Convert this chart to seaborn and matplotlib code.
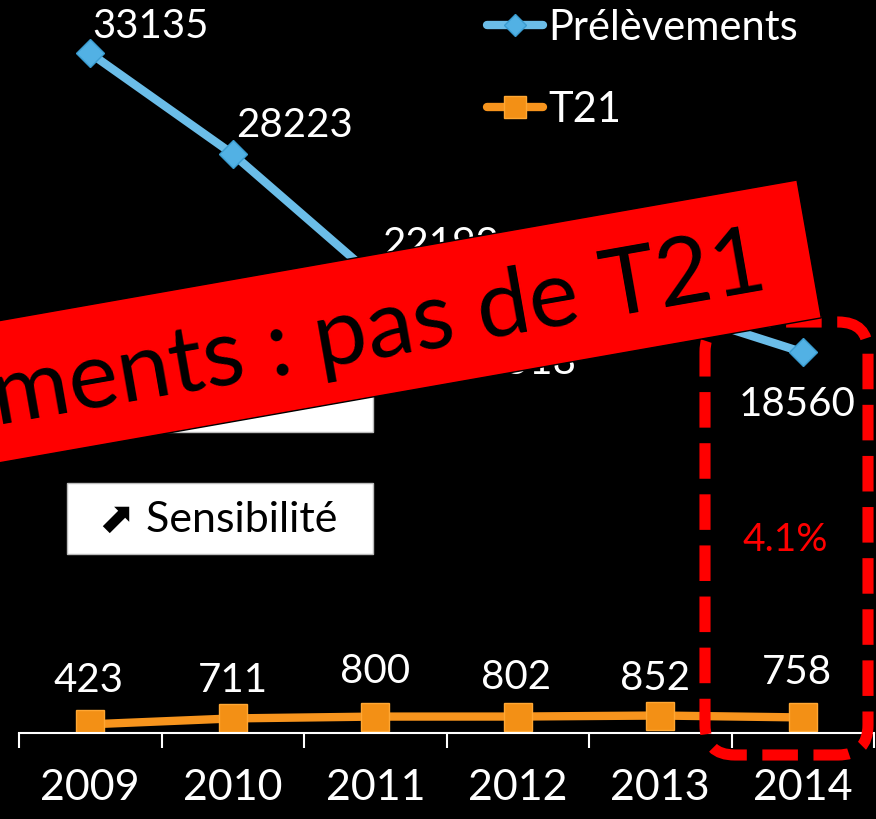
import matplotlib
matplotlib.use("Agg")
import matplotlib.pyplot as plt
import matplotlib.transforms as mtransforms
from matplotlib.patches import Rectangle, Polygon, FancyBboxPatch
import numpy as np
import seaborn as sns

# ── Data ──────────────────────────────────────────────────────────────────────
years = [2009, 2010, 2011, 2012, 2013, 2014]
prelevements = [33135, 28223, 22193, 20518, 20780, 18560]
t21 = [423, 711, 800, 802, 852, 758]
series_names = ["Prélèvements", "T21"]
banner_text = "Prélèvements : pas de T21"
box_text = "⬈ Sensibilité"

# label offsets in pixels (dx, dy), not data
blue_offsets = [(60, 27), (62, 29), (65, 33), (0, -50), (0, 52), (-6, -52)]
orange_offsets = [(-2, 44), (0, 38), (0, 45), (-2, 39), (-5, 37), (-6, 45)]

W, H = 876, 819
BLUE = "#6BBDE8"
ORANGE = "#F7941D"

sns.set_theme(style="dark")
plt.rcParams["font.family"] = ["Lato", "DejaVu Sans"]

fig = plt.figure(figsize=(W / 100, H / 100), dpi=100, facecolor="black")
ax = fig.add_axes([19 / W, (H - 733) / H, (874 - 19) / W, (733 - 15) / H])
ax.set_facecolor("black")

sns.lineplot(x=years, y=prelevements, ax=ax, color=BLUE, linewidth=6,
             marker="D", markersize=14, markerfacecolor="#52B1E4",
             markeredgecolor="#3A9CD0", markeredgewidth=1,
             label=series_names[0])
sns.lineplot(x=years, y=t21, ax=ax, color=ORANGE, linewidth=6,
             marker="s", markersize=20, markerfacecolor="#F39015",
             markeredgecolor="#FFA733", markeredgewidth=1,
             label=series_names[1])
handles, labels = ax.get_legend_handles_labels()
ax.get_legend().remove()

for x, y, off in zip(years, prelevements, blue_offsets):
    ax.annotate(f"{y}", (x, y), xytext=off, textcoords="offset pixels",
                ha="center", va="center", color="white", fontsize=29)
for x, y, off in zip(years, t21, orange_offsets):
    ax.annotate(f"{y}", (x, y), xytext=off, textcoords="offset pixels",
                ha="center", va="center", color="white", fontsize=29)

ax.set_xlim(2008.5, 2014.5)
ax.set_ylim(0, 35000)
ax.set_yticks([])
ax.set_xticks(years)
ax.set_xticks(np.arange(2008.5, 2015, 1), minor=True)
ax.tick_params(axis="x", which="major", length=0, pad=26, labelsize=31,
               labelcolor="white")
ax.tick_params(axis="x", which="minor", bottom=True, length=11, width=1.5,
               color="white", direction="out")
ax.grid(False)
for side in ["top", "right", "left"]:
    ax.spines[side].set_visible(False)
ax.spines["bottom"].set_color("white")
ax.spines["bottom"].set_linewidth(1.5)

fig.legend(handles, labels, loc="upper left",
           bbox_to_anchor=(487 / W, 1 - 9 / H), frameon=False, fontsize=30,
           labelcolor="white", handlelength=1.35, handletextpad=0.12,
           labelspacing=1.05, borderpad=0, borderaxespad=0, markerscale=0.8)

# ── Overlays (pixel coords, origin top-left) ─────────────────────────────────
pix = mtransforms.Affine2D().scale(1, -1).translate(0, H)

fig.add_artist(Rectangle((67, 361), 306, 71, transform=pix, facecolor="white",
                         edgecolor="#BBBBBB", lw=1, zorder=3))
fig.add_artist(Rectangle((67, 483), 306, 71, transform=pix, facecolor="white",
                         edgecolor="#BBBBBB", lw=1, zorder=3))
fig.text(218, 520, box_text, transform=pix, ha="center", va="center",
         fontsize=31, color="black", zorder=4)

fig.add_artist(FancyBboxPatch((705, 322), 163, 433,
                              boxstyle="round,pad=0,rounding_size=30",
                              transform=pix, fill=False, edgecolor="red",
                              lw=8, linestyle=(0, (3.2, 1.4)), zorder=5))
ratio = t21[-1] / prelevements[-1] * 100
fig.text(785, 540, f"{ratio:.1f}%", transform=pix, ha="center",
         va="center", fontsize=28, color="red", zorder=6)

ang = np.deg2rad(10)
u = np.array([np.cos(ang), -np.sin(ang)])
n = np.array([np.sin(ang), np.cos(ang)])
tr = np.array([797, 180])
br = tr + 140 * n
tl = tr - 1100 * u
bl = tl + 140 * n
fig.add_artist(Polygon([tl, tr, br, bl], closed=True, transform=pix,
                       facecolor="#FF0000", edgecolor="black", lw=1,
                       zorder=10))
fig.text(770, 289, banner_text, transform=pix, ha="right", va="baseline",
         rotation=10, rotation_mode="anchor", fontsize=68, color="black",
         zorder=11)

fig.savefig("out.png", dpi=100, facecolor="black")
